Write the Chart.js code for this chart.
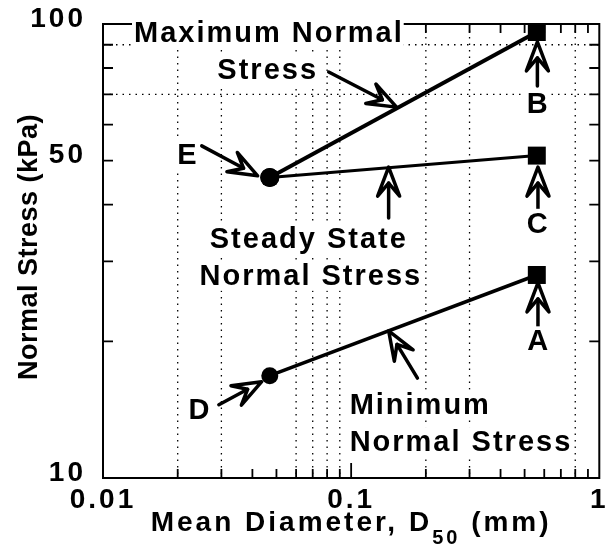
<!DOCTYPE html>
<html>

<head>
    <title>Normal Stress vs Mean Diameter</title>
    <script src="https://cdn.jsdelivr.net/npm/chart.js@4.4.1/dist/chart.umd.min.js"></script>
    <style>
        body { margin: 0; background: #fff; }
        #wrap { width: 612px; height: 553px; }
    </style>
</head>

<body>
    <div id="wrap"><canvas id="myChart"></canvas></div>

    <script>
        // D50 (mm) at the two ends of each line
        var diameters = [0.047, 0.56];
        var maxStress = [45.9, 96];       // E -> B
        var steadyStress = [45.9, 51.3];  // E -> C
        var minStress = [16.8, 28];       // D -> A

        var xTickLabels = [0.01, 0.1, 1];
        var yTickLabels = [10, 50, 100];
        var xMinorTicks = [0.02, 0.03, 0.04, 0.05, 0.06, 0.07, 0.08, 0.09, 0.2, 0.3, 0.4, 0.5, 0.6, 0.7, 0.8, 0.9];
        var yMinorTicks = [20, 30, 40, 50, 60, 70, 80, 90];
        var xGrid = [0.02, 0.03, 0.06, 0.07, 0.08, 0.09, 0.2, 0.3, 0.8];
        var yGrid = [70, 90];

        // text notes: text, x, y, align
        var notes = [
            ['Maximum Normal', 0.0466, 95.5, 'center'],
            ['Stress', 0.0461, 79.2, 'center'],
            ['Steady State', 0.0675, 33.6, 'center'],
            ['Normal Stress', 0.0688, 27.9, 'center'],
            ['Minimum', 0.0986, 14.5, 'left'],
            ['Normal Stress', 0.0986, 12.0, 'left'],
            ['A', 0.57, 20.0, 'center'],
            ['B', 0.568, 66.7, 'center'],
            ['C', 0.568, 36.3, 'center'],
            ['D', 0.0246, 14.1, 'center'],
            ['E', 0.0220, 51.4, 'center']
        ];

        // arrows: tail x, tail y, tip x, tip y
        var arrows = [
            [0.0812, 78.4, 0.1524, 65.6],
            [0.1416, 37.4, 0.1416, 48.4],
            [0.185, 16.6, 0.1416, 21.1],
            [0.563, 73.0, 0.563, 91.3],
            [0.566, 38.0, 0.566, 48.4],
            [0.566, 21.3, 0.566, 26.9],
            [0.0250, 53.9, 0.0420, 46.3],
            [0.0293, 14.5, 0.0436, 16.3]
        ];

        var FONT = '"Liberation Sans", Arial, sans-serif';

        function drawArrow(ctx, x0, y0, x1, y1) {
            var ang = Math.atan2(y1 - y0, x1 - x0);
            var c = Math.cos(ang), s = Math.sin(ang);
            var len = 29, half = 11, notch = 16;
            function pt(back, side) {
                return [x1 - back * c - side * s, y1 - back * s + side * c];
            }
            var w1 = pt(len, half), w2 = pt(len, -half), n = pt(notch, 0);
            ctx.beginPath();
            ctx.moveTo(x0, y0);
            ctx.lineTo(n[0], n[1]);
            ctx.stroke();
            ctx.beginPath();
            ctx.moveTo(x1, y1);
            ctx.lineTo(w1[0], w1[1]);
            ctx.lineTo(n[0], n[1]);
            ctx.lineTo(w2[0], w2[1]);
            ctx.closePath();
            ctx.stroke();
        }

        var extras = {
            id: 'extras',
            beforeDraw: function (chart) {
                chart.ctx.letterSpacing = '3px';
            },
            beforeDatasetsDraw: function (chart) {
                var ctx = chart.ctx, a = chart.chartArea;
                var xs = chart.scales.x, ys = chart.scales.y;
                ctx.save();
                ctx.strokeStyle = '#000';

                // dotted grid
                ctx.lineWidth = 1.3;
                ctx.setLineDash([1.5, 5]);
                xGrid.forEach(function (v) {
                    var px = xs.getPixelForValue(v);
                    ctx.beginPath(); ctx.moveTo(px, a.top); ctx.lineTo(px, a.bottom); ctx.stroke();
                });
                yGrid.forEach(function (v) {
                    var py = ys.getPixelForValue(v);
                    ctx.beginPath(); ctx.moveTo(a.left, py); ctx.lineTo(a.right, py); ctx.stroke();
                });
                ctx.setLineDash([]);

                // frame
                ctx.lineWidth = 2;
                ctx.strokeRect(a.left, a.top, a.right - a.left, a.bottom - a.top);

                // inside ticks
                ctx.lineWidth = 1.8;
                xMinorTicks.concat([0.1]).forEach(function (v) {
                    var px = xs.getPixelForValue(v);
                    var l = v === 0.1 ? 15 : 9;
                    ctx.beginPath();
                    ctx.moveTo(px, a.bottom); ctx.lineTo(px, a.bottom - l);
                    ctx.moveTo(px, a.top); ctx.lineTo(px, a.top + l);
                    ctx.stroke();
                });
                yMinorTicks.forEach(function (v) {
                    var py = ys.getPixelForValue(v);
                    ctx.beginPath();
                    ctx.moveTo(a.left, py); ctx.lineTo(a.left + 10, py);
                    ctx.moveTo(a.right, py); ctx.lineTo(a.right - 10, py);
                    ctx.stroke();
                });
                ctx.restore();
            },
            afterDatasetsDraw: function (chart) {
                var ctx = chart.ctx, a = chart.chartArea;
                var xs = chart.scales.x, ys = chart.scales.y;
                ctx.save();
                ctx.strokeStyle = '#000';
                ctx.fillStyle = '#000';
                ctx.lineWidth = 3.5;
                ctx.lineJoin = 'round';
                ctx.lineCap = 'round';
                arrows.forEach(function (r) {
                    drawArrow(ctx, xs.getPixelForValue(r[0]), ys.getPixelForValue(r[1]),
                        xs.getPixelForValue(r[2]), ys.getPixelForValue(r[3]));
                });

                ctx.font = 'bold 29px ' + FONT;
                ctx.letterSpacing = '2px';
                ctx.textBaseline = 'middle';
                ctx.textAlign = 'left';
                notes.forEach(function (n) {
                    var px = xs.getPixelForValue(n[1]), py = ys.getPixelForValue(n[2]);
                    var w = ctx.measureText(n[0]).width;
                    var left = n[3] === 'left' ? px : px - w / 2;
                    ctx.fillStyle = '#fff';
                    ctx.fillRect(left - 2, py - 15, w + 2, 30);
                    ctx.fillStyle = '#000';
                    ctx.fillText(n[0], left, py + 1);
                });

                // x axis title with subscript
                var main = 'Mean Diameter, D', sub = '50', tail = ' (mm)';
                ctx.letterSpacing = '3px';
                ctx.font = 'bold 28px ' + FONT;
                var w1 = ctx.measureText(main).width, w3 = ctx.measureText(tail).width;
                ctx.font = 'bold 20px ' + FONT;
                var w2 = ctx.measureText(sub).width;
                var x = (a.left + a.right) / 2 - (w1 + w2 + w3) / 2;
                var base = chart.height - 22;
                ctx.textBaseline = 'alphabetic';
                ctx.font = 'bold 28px ' + FONT;
                ctx.fillText(main, x, base);
                ctx.font = 'bold 20px ' + FONT;
                ctx.fillText(sub, x + w1, base + 13);
                ctx.font = 'bold 28px ' + FONT;
                ctx.fillText(tail, x + w1 + w2, base);

                // y axis title
                ctx.save();
                ctx.translate(30, (a.top + a.bottom) / 2 - 4);
                ctx.rotate(-Math.PI / 2);
                ctx.font = 'bold 27px ' + FONT;
                ctx.letterSpacing = '0.5px';
                ctx.textAlign = 'center';
                ctx.textBaseline = 'middle';
                ctx.fillText('Normal Stress (kPa)', 0, 0);
                ctx.restore();
                ctx.restore();
            }
        };

        Chart.defaults.font.family = FONT;
        Chart.defaults.font.weight = 'bold';
        Chart.defaults.color = '#000';

        function series(values, widths, styles, radii) {
            return {
                data: diameters.map(function (d, i) { return { x: d, y: values[i] }; }),
                borderColor: '#000',
                borderWidth: widths,
                backgroundColor: '#000',
                pointBackgroundColor: '#000',
                pointBorderWidth: 0,
                pointStyle: styles,
                pointRadius: radii,
                clip: false
            };
        }

        var ctx = document.getElementById('myChart');
        new Chart(ctx, {
            type: 'line',
            data: {
                datasets: [
                    series(maxStress, 4, ['circle', 'rect'], [9.5, 12.7]),
                    series(steadyStress, 3, ['circle', 'rect'], [9.5, 12.7]),
                    series(minStress, 3.5, ['circle', 'rect'], [8.5, 12.7])
                ]
            },
            options: {
                responsive: true,
                maintainAspectRatio: false,
                animation: false,
                events: [],
                layout: { padding: { left: 0, right: 12, top: 24, bottom: 0 } },
                plugins: { legend: { display: false }, tooltip: { enabled: false } },
                scales: {
                    x: {
                        type: 'logarithmic',
                        min: 0.01,
                        max: 1,
                        grid: { display: false, drawTicks: false },
                        border: { display: false },
                        afterBuildTicks: function (scale) {
                            scale.ticks = xTickLabels.map(function (v) { return { value: v }; });
                        },
                        afterFit: function (scale) {
                            scale.height = 75;
                            scale.paddingLeft = 0;
                            scale.paddingRight = 0;
                        },
                        ticks: {
                            autoSkip: false,
                            maxRotation: 0,
                            padding: 5,
                            font: { size: 28 },
                            callback: function (v) { return String(v); }
                        }
                    },
                    y: {
                        type: 'logarithmic',
                        min: 10,
                        max: 100,
                        grid: { display: false, drawTicks: false },
                        border: { display: false },
                        afterBuildTicks: function (scale) {
                            scale.ticks = yTickLabels.map(function (v) { return { value: v }; });
                        },
                        afterFit: function (scale) {
                            scale.width = 103;
                            scale.paddingTop = 0;
                            scale.paddingBottom = 0;
                        },
                        ticks: {
                            autoSkip: false,
                            padding: 17,
                            labelOffset: -5,
                            font: { size: 28 },
                            callback: function (v) { return String(v); }
                        }
                    }
                }
            },
            plugins: [extras]
        });
    </script>
</body>

</html>
